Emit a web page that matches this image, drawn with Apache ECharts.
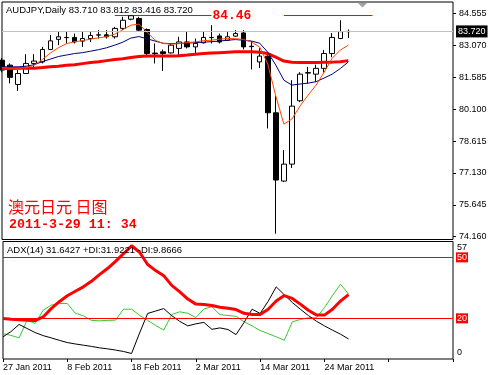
<!DOCTYPE html>
<html><head><meta charset="utf-8">
<script src="https://cdn.jsdelivr.net/npm/echarts@6/dist/echarts.min.js"></script>
<style>html,body{margin:0;padding:0;background:#fff}#c{width:493px;height:375px}</style>
</head><body><div id="c"></div>
<script>
const symbol = 'AUDJPY', period = 'Daily';
const dates = ['27 Jan 2011','28 Jan 2011','31 Jan 2011','1 Feb 2011','2 Feb 2011','3 Feb 2011','4 Feb 2011','7 Feb 2011','8 Feb 2011','9 Feb 2011','10 Feb 2011','11 Feb 2011','14 Feb 2011','15 Feb 2011','16 Feb 2011','17 Feb 2011','18 Feb 2011','21 Feb 2011','22 Feb 2011','23 Feb 2011','24 Feb 2011','25 Feb 2011','28 Feb 2011','1 Mar 2011','2 Mar 2011','3 Mar 2011','4 Mar 2011','7 Mar 2011','8 Mar 2011','9 Mar 2011','10 Mar 2011','11 Mar 2011','14 Mar 2011','15 Mar 2011','16 Mar 2011','17 Mar 2011','18 Mar 2011','21 Mar 2011','22 Mar 2011','23 Mar 2011','24 Mar 2011','25 Mar 2011','28 Mar 2011','29 Mar 2011'];
const open  = [82.38,82.15,81.25,81.76,82.23,82.30,82.88,83.35,83.43,83.44,83.27,83.39,83.55,83.56,83.47,83.86,84.29,84.32,83.81,82.71,82.77,82.72,82.93,83.23,83.00,83.19,83.43,83.51,83.31,83.50,83.65,83.03,82.30,82.57,79.93,76.75,77.54,80.49,81.80,81.73,82.00,82.69,83.39,83.710];
const high  = [82.48,82.23,81.92,82.66,82.66,83.00,83.55,83.70,83.70,83.62,83.70,83.70,83.78,83.78,83.93,84.40,84.46,84.40,83.86,83.16,82.88,83.16,83.47,83.70,83.39,83.70,84.01,83.62,83.70,83.78,83.78,83.27,82.94,82.60,80.71,78.19,81.45,81.82,82.07,82.17,82.85,83.64,84.24,83.812];
const low   = [81.82,81.30,80.95,81.74,82.04,82.23,82.85,83.08,83.16,83.16,83.00,83.23,83.39,83.39,83.39,83.78,84.24,83.74,82.51,82.23,81.88,82.69,82.62,82.93,82.69,83.16,83.16,83.16,83.28,83.47,82.88,81.95,82.01,79.20,74.30,76.71,77.36,80.43,81.30,81.37,81.80,82.52,83.36,83.416];
const close = [81.92,81.58,81.76,82.23,82.34,82.88,83.28,83.47,83.44,83.23,83.39,83.53,83.56,83.47,83.86,84.24,84.45,83.78,82.69,82.68,82.69,83.08,83.23,83.00,83.16,83.44,83.44,83.23,83.47,83.62,83.00,83.01,82.57,79.93,76.80,77.54,80.24,81.73,81.78,82.00,82.69,83.44,83.71,83.720];
const maFast = [82.03,82.01,82.01,82.03,82.15,82.41,82.71,82.96,83.15,83.24,83.29,83.36,83.42,83.48,83.59,83.80,84.01,84.06,83.69,83.31,83.16,83.13,83.15,83.20,83.23,83.29,83.31,83.36,83.39,83.38,83.35,83.22,82.99,82.20,80.71,79.40,79.64,80.24,80.75,81.22,81.82,82.47,82.85,83.08];
const maMid  = [82.07,82.07,82.07,82.10,82.17,82.31,82.43,82.55,82.62,82.69,82.73,82.80,82.87,82.96,83.08,83.22,83.41,83.48,83.38,83.27,83.17,83.15,83.16,83.17,83.20,83.22,83.24,83.27,83.31,83.34,83.31,83.27,83.17,82.75,82.15,81.45,81.22,81.27,81.31,81.38,81.55,81.73,81.99,82.30];
const maSlow = [81.99,81.99,82.00,82.01,82.01,82.04,82.08,82.10,82.14,82.17,82.22,82.27,82.31,82.36,82.41,82.45,82.51,82.55,82.57,82.57,82.57,82.57,82.59,82.62,82.66,82.69,82.71,82.73,82.75,82.77,82.77,82.77,82.75,82.69,82.52,82.34,82.28,82.27,82.27,82.27,82.28,82.29,82.31,82.36];
const adxPeriod = 14;
const adx     = [19.9,19.5,19.3,19.1,18.9,20.7,24.8,28.2,31.1,33.3,35.5,38.2,41.5,44.5,48.0,51.8,55.7,52.5,46.5,43.5,41.0,36.2,33.0,29.5,27.0,26.8,26.3,25.5,25.0,24.3,22.5,21.9,21.9,24.5,28.5,31.2,29.8,27.0,24.0,21.6,21.6,24.5,28.5,31.6427];
const plusDI  = [12.5,11.6,10.4,19.1,17.5,24.0,26.5,27.3,27.3,22.5,21.3,19.0,18.8,19.0,19.1,24.5,24.5,21.5,19.0,16.5,14.2,21.9,23.2,22.5,20.4,24.6,25.7,21.8,21.4,21.0,18.3,16.3,14.0,12.5,10.9,9.2,18.3,19.4,20.3,20.3,25.3,31.2,36.8,31.9221];
const minusDI = [10.9,13.5,17.0,15.0,13.0,11.5,10.4,9.2,8.1,7.4,6.8,6.2,5.5,5.0,4.4,3.7,2.7,12.8,22.4,23.6,24.8,21.3,18.5,16.3,17.3,18.0,14.6,15.3,14.5,12.0,18.0,24.5,22.4,28.4,35.5,31.6,27.8,24.5,21.4,18.6,16.3,14.2,12.2,9.8666];
const priceTicks = [74.160,75.645,77.130,78.615,80.100,81.585,83.070,84.555];
const adxTicks = [0,20,50,57];
const adxLevels = [20,50];
const levelPrice = 84.46;
const noteCn = '澳元日元 日图';
const noteTime = '2011-3-29 11: 34';

const UI = "'Liberation Sans', Arial, sans-serif";
const MONO = "'Liberation Mono', 'Courier New', monospace";
const last = close.length - 1;
const categories = dates.concat(new Array(13).fill(''));
const ohlc = dates.map((d, i) => [open[i], close[i], low[i], high[i]]);

const headerMain = `${symbol},${period} ${open[last].toFixed(3)} ${high[last].toFixed(3)} ${low[last].toFixed(3)} ${close[last].toFixed(3)}`;
const headerAdx = `ADX(${adxPeriod}) ${adx[last].toFixed(4)} +DI:${plusDI[last].toFixed(4)} -DI:${minusDI[last].toFixed(4)}`;

const redLine = {color: '#ff0000', width: 1, type: 'solid', opacity: 1};

function levelSeries(x0, x1, withLabel) {
  return {
    type: 'line', xAxisIndex: 0, yAxisIndex: 0, symbol: 'none', silent: true, z: 2,
    data: [[x0, levelPrice], [x1, levelPrice]],
    lineStyle: {color: '#ff0000', width: 1},
    itemStyle: {color: '#ff0000'},
    endLabel: withLabel ? {show: true, formatter: levelPrice.toFixed(2), distance: 1,
      color: '#ff0000', fontWeight: 'bold', fontSize: 13, fontFamily: MONO, padding: [0, 0, 3, 0]} : {show: false}
  };
}

const chart = echarts.init(document.getElementById('c'), null, {renderer: 'canvas'});
chart.setOption({
  animation: false,
  backgroundColor: '#fff',
  grid: [
    {left: 2, top: 2, width: 451, height: 237.5, show: true, borderColor: '#000', borderWidth: 1},
    {left: 2, top: 241.5, width: 451, height: 117.5, show: true, borderColor: '#000', borderWidth: 1}
  ],
  xAxis: [
    {type: 'category', gridIndex: 0, data: categories, boundaryGap: false,
     axisLine: {show: false}, axisTick: {show: false}, axisLabel: {show: false}, splitLine: {show: false}},
    {type: 'category', gridIndex: 1, data: categories, boundaryGap: false,
     axisLine: {show: false},
     axisTick: {show: true, interval: 7, length: 3, lineStyle: {color: '#000'}},
     axisLabel: {show: true, interval: 7, align: 'left', margin: 4, fontSize: 9, fontFamily: UI, color: '#000'},
     splitLine: {show: false}}
  ],
  yAxis: [
    {type: 'value', gridIndex: 0, position: 'right', min: 74.03, max: 85.09, scale: true,
     splitLine: {show: false}, axisLine: {show: false},
     axisTick: {show: true, length: 3, customValues: priceTicks, lineStyle: {color: '#000'}},
     axisLabel: {show: true, customValues: priceTicks, margin: 6, fontSize: 9, fontFamily: UI, color: '#000',
                 formatter: v => v.toFixed(3)}},
    {type: 'value', gridIndex: 1, position: 'right', min: 0, max: 57.8,
     splitLine: {show: false}, axisLine: {show: false}, axisTick: {show: false},
     axisLabel: {show: true, customValues: adxTicks, margin: 3, fontSize: 9, fontFamily: UI, color: '#000',
       formatter: v => adxLevels.includes(v) ? `{r|${v}}` : (v === adxTicks[adxTicks.length - 1] ? `{t|${v}}` : `{b|${v}}`),
       rich: {
         r: {backgroundColor: '#ff0000', color: '#fff', padding: [1, 1, 0, 1], fontSize: 9, fontFamily: UI},
         t: {color: '#000', padding: [9, 0, 0, 1], fontSize: 9, fontFamily: UI},
         b: {color: '#000', padding: [0, 0, 13, 1], fontSize: 9, fontFamily: UI}
       }}}
  ],
  series: [
    {type: 'candlestick', xAxisIndex: 0, yAxisIndex: 0, data: ohlc, barWidth: 5, clip: true,
     itemStyle: {color: '#fff', color0: '#000', borderColor: '#000', borderColor0: '#000', borderWidth: 1},
     markLine: {
       silent: true, symbol: 'none', animation: false,
       label: {show: false},
       data: [
         {yAxis: close[last], lineStyle: {color: '#c0c0c0', width: 1, type: 'solid'},
          label: {show: true, position: 'end', distance: 3, formatter: () => close[last].toFixed(3),
                  backgroundColor: '#000', color: '#fff', padding: [2, 2, 1, 2], fontSize: 9, fontFamily: UI}}
       ]
     }},
    levelSeries(13.5, 26.2, true),
    levelSeries(34.5, 46, false),
    {type: 'line', xAxisIndex: 0, yAxisIndex: 0, data: maSlow, symbol: 'none', lineStyle: {color: '#ff0000', width: 3}, z: 3},
    {type: 'line', xAxisIndex: 0, yAxisIndex: 0, data: maMid, symbol: 'none', lineStyle: {color: '#000080', width: 1}, z: 3},
    {type: 'line', xAxisIndex: 0, yAxisIndex: 0, data: maFast, symbol: 'none', lineStyle: {color: '#ff4500', width: 1}, z: 3},
    {type: 'line', xAxisIndex: 1, yAxisIndex: 1, data: adx, symbol: 'none', lineStyle: {color: '#ff0000', width: 3}, z: 4,
     markLine: {silent: true, symbol: 'none', animation: false, label: {show: false},
       lineStyle: redLine,
       data: adxLevels.map(v => ({yAxis: v}))}},
    {type: 'line', xAxisIndex: 1, yAxisIndex: 1, data: plusDI, symbol: 'none', lineStyle: {color: '#32cd32', width: 1}, z: 3},
    {type: 'line', xAxisIndex: 1, yAxisIndex: 1, data: minusDI, symbol: 'none', lineStyle: {color: '#000', width: 1}, z: 3}
  ],
  graphic: [
    {type: 'text', left: 6, top: 5, z: 10, style: {text: headerMain, fill: '#000', font: `9.5px ${UI}`}},
    {type: 'text', left: 7, top: 245, z: 10, style: {text: headerAdx, fill: '#000', font: `9.5px ${UI}`}},
    {type: 'text', left: 8, top: 199, z: 10, style: {text: noteCn, fill: '#ff0000', font: "16px 'Noto Sans CJK SC', sans-serif"}},
    {type: 'text', left: 9, top: 218, z: 10, style: {text: noteTime, fill: '#ff0000', font: `bold 13.3px ${MONO}`}},
    {type: 'polygon', z: 10, shape: {points: [[358, 3], [367, 3], [362.5, 7.5]]}, style: {fill: '#a0a0a0'}}
  ]
});
</script>
</body></html>
